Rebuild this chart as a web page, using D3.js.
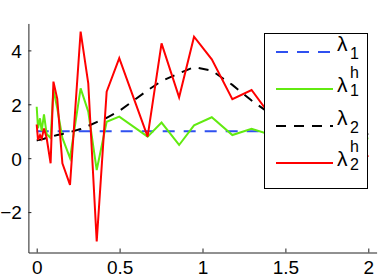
<!DOCTYPE html>
<html><head><meta charset="utf-8">
<script src="https://cdn.jsdelivr.net/npm/d3@7/dist/d3.min.js"></script>
<style>
html,body{margin:0;padding:0;background:#fff;}
svg{display:block;font-family:"Liberation Sans",Arial,Helvetica,sans-serif;}
</style></head>
<body>
<svg id="chart" width="390" height="278"></svg>
<script>
// ---- data ----
const tValues = [0, 0.008, 0.02, 0.03, 0.044, 0.06, 0.084, 0.101, 0.124, 0.155, 0.201, 0.265, 0.311, 0.362, 0.422, 0.498, 0.669, 0.753, 0.859, 0.949, 1.056, 1.18, 1.296, 1.42, 1.55, 1.68, 1.8, 1.9, 2.0];
const lambda1 = tValues.map(() => 1.0);
const lambda1h = [1.91, 1.11, 1.48, 1.0, 1.63, 0.9, 0.75, 2.55, 1.85, 0.75, 0.0, 2.59, 1.73, -0.44, 1.35, 1.54, 0.80, 1.32, 0.49, 1.22, 1.52, 0.86, 1.09, 0.85, 1.1, 0.8, 1.0, 0.9, 0.72];
const lambda2 = [0.66, 0.67, 0.68, 0.70, 0.72, 0.75, 0.79, 0.82, 0.86, 0.90, 0.97, 1.08, 1.20, 1.34, 1.50, 1.75, 2.52, 2.86, 3.15, 3.38, 3.25, 2.72, 2.14, 1.6, 1.2, 0.95, 0.85, 0.85, 0.9];
const lambda2h = [1.25, 0.68, 0.85, 0.72, 1.1, 0.75, -0.19, 2.84, 2.2, -0.19, -0.99, 4.7, 2.78, -3.09, 2.47, 3.71, 0.80, 4.26, 2.26, 4.51, 3.67, 2.19, 2.53, 1.5, 2.1, 1.0, 1.6, 0.6, 0.05];
const xTicks = [0, 0.5, 1, 1.5, 2];
const xTickLabels = ["0", "0.5", "1", "1.5", "2"];
const yTicks = [-2, 0, 2, 4];
const yTickLabels = ["\u22122", "0", "2", "4"];
const seriesNames = ["λ1", "λ1h", "λ2", "λ2h"];
const seriesColors = ["#2f50f0", "#62ea10", "#000000", "#ff0000"];
const seriesDash = ["12,9", null, "10,8", null];
const legendBase = ["λ", "λ", "λ", "λ"];
const legendSub = ["1", "1", "2", "2"];
const legendSup = ["", "h", "", "h"];

const svg = d3.select("#chart");
const x = d3.scaleLinear().domain([-0.05, 2.05]).range([28.4, 376.6]);
const y = d3.scaleLinear().domain([-3.5, 5]).range([252.5, 23.45]);

svg.append("defs").append("clipPath").attr("id", "clip")
  .append("rect").attr("x", x(-0.05)).attr("y", y(5)).attr("width", x(2.05) - x(-0.05)).attr("height", y(-3.5) - y(5));

const seriesData = [lambda1, lambda1h, lambda2, lambda2h];
const line = d3.line().x(d => x(d[0])).y(d => y(d[1]));
const g = svg.append("g").attr("clip-path", "url(#clip)");
seriesData.forEach((vals, i) => {
  g.append("path")
    .datum(tValues.map((t, k) => [t, vals[k]]))
    .attr("d", line)
    .attr("fill", "none")
    .attr("stroke", seriesColors[i])
    .attr("stroke-width", 2)
    .attr("stroke-linejoin", "miter")
    .attr("stroke-dasharray", seriesDash[i]);
});

// axes
const xAxis = d3.axisBottom(x).tickValues(xTicks).tickFormat((d, i) => xTickLabels[i]).tickSizeInner(-4).tickSizeOuter(0);
const gx = svg.append("g").attr("transform", `translate(0,${y(-3.5)})`).call(xAxis);
gx.selectAll("text").attr("y", 21.5).attr("dy", 0).style("font-size", "19px").attr("fill", "#000");
const yAxis = d3.axisLeft(y).tickValues(yTicks).tickFormat((d, i) => yTickLabels[i]).tickSizeInner(-3).tickSizeOuter(0);
const gy = svg.append("g").attr("transform", `translate(${x(-0.05)},0)`).call(yAxis);
gy.selectAll("text").attr("x", -6.5).attr("dy", "0.36em").style("font-size", "19px").attr("fill", "#000");
svg.selectAll(".domain, .tick line").attr("stroke", "#222").attr("stroke-width", 1);

// legend
const lg = svg.append("g");
lg.append("rect").attr("x", 264.5).attr("y", 33.5).attr("width", 103).attr("height", 155)
  .attr("fill", "#fff").attr("stroke", "#000").attr("stroke-width", 1);
const rowY = [52, 89, 126, 163];
seriesNames.forEach((n, i) => {
  const ly = rowY[i];
  lg.append("line").attr("x1", 276).attr("x2", 333).attr("y1", ly).attr("y2", ly)
    .attr("stroke", seriesColors[i]).attr("stroke-width", 2).attr("stroke-dasharray", seriesDash[i]);
  const hasSup = legendSup[i] !== "";
  lg.append("text").attr("x", 337).attr("y", ly + (hasSup ? 3 : -1)).style("font-size", "21px").text(legendBase[i]);
  lg.append("text").attr("x", 350).attr("y", ly + 7).style("font-size", "16px").text(legendSub[i]);
  if (hasSup) lg.append("text").attr("x", 350).attr("y", ly - 11.5).style("font-size", "16px").text(legendSup[i]);
});
</script>
</body></html>
